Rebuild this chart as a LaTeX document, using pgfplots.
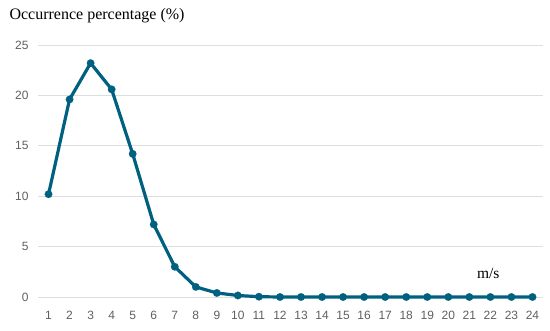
\documentclass[border=0pt]{standalone}
\usepackage{pgfplots}
\pgfplotsset{compat=1.18}
\usepackage{fontspec}
\setmainfont{Liberation Serif}
\newfontfamily\ticksfont{Liberation Sans}
\definecolor{lineblue}{RGB}{0,96,128}
\definecolor{tickgray}{RGB}{95,95,95}
\definecolor{gridgray}{RGB}{222,222,222}
\begin{document}
\begin{tikzpicture}[x=1pt,y=1pt]
\path (0,0) rectangle (550,330);
\begin{axis}[
    at={(38pt,33pt)}, anchor=south west,
    scale only axis,
    width=505pt, height=252pt,
    xmin=0.5, xmax=24.5,
    ymin=0, ymax=25,
    xtick={1,...,24},
    ytick={0,5,...,25},
    axis line style={draw=none},
    tick style={draw=none},
    ymajorgrids,
    grid style={gridgray, line width=1pt},
    clip=false,
    ticklabel style={font=\ticksfont\fontsize{12}{14}\selectfont, text=tickgray},
    /pgf/number format/assume math mode=true,
    xticklabel style={yshift=-11pt},
    yticklabel style={xshift=-6pt},
]
\addplot[lineblue, line width=3.2pt, line join=round, mark=*, mark size=3.8pt, mark options={solid, fill=lineblue, draw=lineblue, line width=0.1pt}] coordinates {
(1,10.2) (2,19.6) (3,23.2) (4,20.6) (5,14.2) (6,7.2) (7,3.0) (8,1.0)
(9,0.4) (10,0.15) (11,0.03) (12,0) (13,0) (14,0) (15,0) (16,0) (17,0)
(18,0) (19,0) (20,0) (21,0) (22,0) (23,0) (24,0)
};
\node[anchor=base, font=\fontsize{15.5}{18}\selectfont] at (axis cs:21.9,1.8) {m/s};
\end{axis}
\node[anchor=base west, font=\fontsize{16}{19}\selectfont] at (6,310) {Occurrence percentage (\%)};
\end{tikzpicture}
\end{document}
